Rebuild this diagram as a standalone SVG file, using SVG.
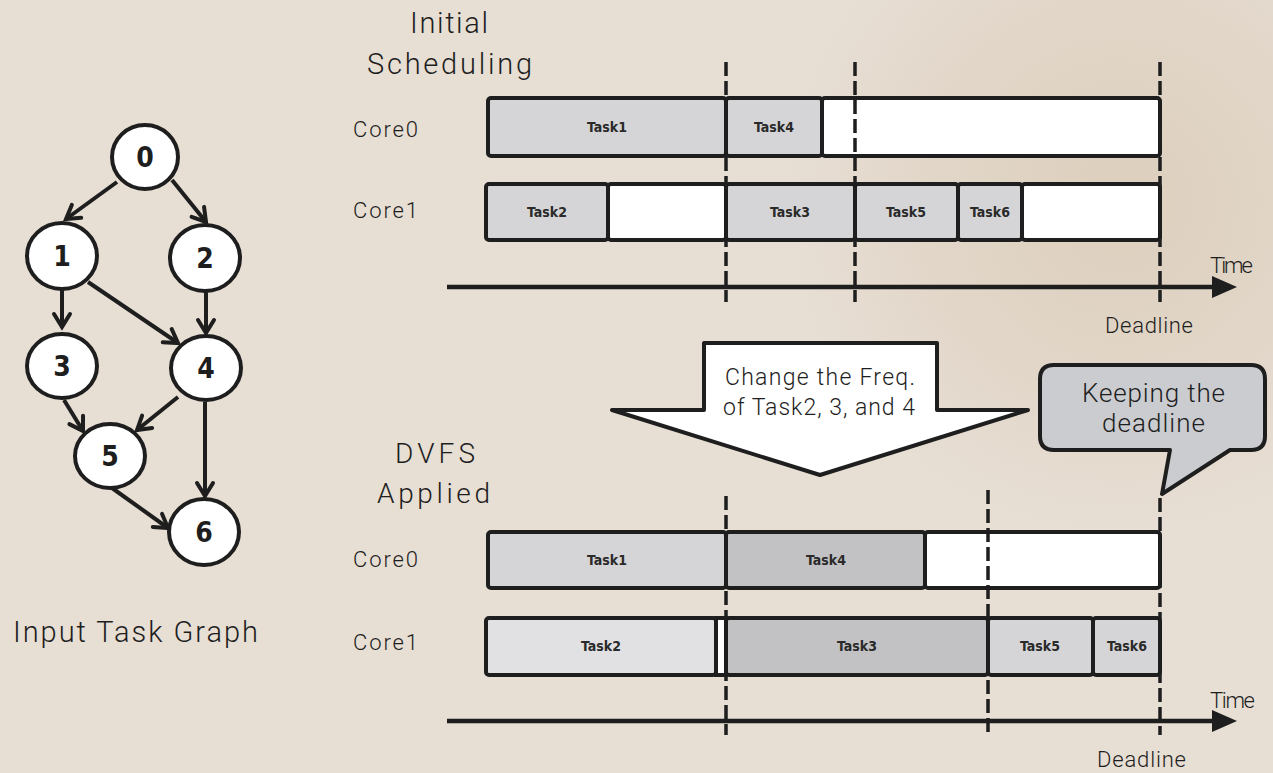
<svg xmlns="http://www.w3.org/2000/svg" width="1273" height="773" viewBox="0 0 1273 773">
<defs>
<style>
.lbl{font-family:Roboto,"Liberation Sans",sans-serif;font-weight:300;fill:#1e1e1e;}
.task{font-family:"DejaVu Sans Condensed","DejaVu Sans",sans-serif;font-stretch:condensed;font-weight:bold;font-size:14px;fill:#2a2a2a;text-anchor:middle;}
.num{font-family:"DejaVu Sans Condensed","DejaVu Sans",sans-serif;font-stretch:condensed;font-weight:bold;font-size:28px;fill:#1e1e1e;text-anchor:middle;}
.node{fill:#fff;stroke:#1e1e1e;stroke-width:4;}
.edge{stroke:#1e1e1e;stroke-width:4;fill:none;marker-end:url(#chev);}
.seg{stroke:#1e1e1e;stroke-width:4;}
.g1{fill:#d5d5d7;}
.g2{fill:#c2c2c4;}
.g0{fill:#e1e1e3;}
.w{fill:#fff;}
.dash{stroke:#1e1e1e;stroke-width:3.5;stroke-dasharray:14 5;fill:none;}
.axis{stroke:#1e1e1e;stroke-width:4.5;fill:none;}
</style>
<marker id="chev" viewBox="-16 -12 20 24" refX="0" refY="0" markerWidth="20" markerHeight="24" markerUnits="userSpaceOnUse" orient="auto">
<path d="M-13,-8 L0,0 L-13,8" fill="none" stroke="#1e1e1e" stroke-width="4" stroke-linecap="round" stroke-linejoin="miter"/>
</marker>
<radialGradient id="tint" cx="0.5" cy="0.5" r="0.5">
<stop offset="0" stop-color="#cdb89b" stop-opacity="0.4"/>
<stop offset="0.6" stop-color="#cdb89b" stop-opacity="0.2"/>
<stop offset="1" stop-color="#cdb89b" stop-opacity="0"/>
</radialGradient>
</defs>
<rect x="0" y="0" width="1273" height="773" fill="#e7ded4"/>
<ellipse cx="1120" cy="200" rx="330" ry="330" fill="url(#tint)"/>

<!-- Task graph -->
<g id="graph-edges">
<line class="edge" x1="117" y1="182" x2="66" y2="219"/>
<line class="edge" x1="172" y1="180" x2="206" y2="222"/>
<line class="edge" x1="62" y1="290" x2="62" y2="327"/>
<line class="edge" x1="88" y1="282" x2="178" y2="343"/>
<line class="edge" x1="206" y1="292" x2="206" y2="333"/>
<line class="edge" x1="64" y1="400" x2="83" y2="431"/>
<line class="edge" x1="178" y1="397" x2="137" y2="430"/>
<line class="edge" x1="205" y1="402" x2="205" y2="496"/>
<line class="edge" x1="112" y1="488" x2="168" y2="528"/>
</g>
<g id="node0"><ellipse class="node" cx="145" cy="157" rx="33" ry="32"/><text class="num" x="145" y="167">0</text></g>
<g id="node1"><ellipse class="node" cx="62" cy="256" rx="35" ry="33"/><text class="num" x="62" y="266">1</text></g>
<g id="node2"><ellipse class="node" cx="205" cy="258" rx="35" ry="33"/><text class="num" x="205" y="268">2</text></g>
<g id="node3"><ellipse class="node" cx="62" cy="366" rx="35" ry="32"/><text class="num" x="62" y="376">3</text></g>
<g id="node4"><ellipse class="node" cx="206" cy="368" rx="35" ry="32"/><text class="num" x="206" y="378">4</text></g>
<g id="node5"><ellipse class="node" cx="110" cy="456" rx="35" ry="32"/><text class="num" x="110" y="466">5</text></g>
<g id="node6"><ellipse class="node" cx="204" cy="532" rx="35" ry="33"/><text class="num" x="204" y="542">6</text></g>
<g id="graph-title"><text class="lbl" x="13" y="642" font-size="29" textLength="245" lengthAdjust="spacing">Input Task Graph</text></g>

<!-- Initial scheduling -->
<g id="initial-title">
<text class="lbl" x="410" y="33" font-size="29" textLength="78" lengthAdjust="spacing">Initial</text>
<text class="lbl" x="367" y="74" font-size="29" textLength="165" lengthAdjust="spacing">Scheduling</text>
</g>
<g id="init-core0">
<text class="lbl" x="353" y="137" font-size="22" textLength="65" lengthAdjust="spacing">Core0</text>
<rect class="seg g1" x="488" y="98" width="238" height="58" rx="3"/>
<rect class="seg g1" x="726" y="98" width="96" height="58" rx="3"/>
<rect class="seg w" x="822" y="98" width="338" height="58" rx="3"/>
<text class="task" x="607" y="132">Task1</text>
<text class="task" x="774" y="132">Task4</text>
</g>
<g id="init-core1">
<text class="lbl" x="353" y="218" font-size="22" textLength="65" lengthAdjust="spacing">Core1</text>
<rect class="seg g1" x="486" y="184" width="122" height="56" rx="3"/>
<rect class="seg w" x="608" y="184" width="118" height="56" rx="3"/>
<rect class="seg g1" x="726" y="184" width="129" height="56" rx="3"/>
<rect class="seg g1" x="855" y="184" width="103" height="56" rx="3"/>
<rect class="seg g1" x="958" y="184" width="64" height="56" rx="3"/>
<rect class="seg w" x="1022" y="184" width="138" height="56" rx="3"/>
<text class="task" x="547" y="217">Task2</text>
<text class="task" x="790" y="217">Task3</text>
<text class="task" x="906" y="217">Task5</text>
<text class="task" x="990" y="217">Task6</text>
</g>
<g id="init-axis">
<line class="dash" x1="726" y1="62" x2="726" y2="302"/>
<line class="dash" x1="855" y1="62" x2="855" y2="302"/>
<line class="dash" x1="1160" y1="62" x2="1160" y2="302"/>
<line class="axis" x1="447" y1="287" x2="1216" y2="287"/>
<polygon points="1212,276 1237,287 1212,298" fill="#1e1e1e"/>
<text class="lbl" x="1210" y="273" font-size="22" textLength="43" lengthAdjust="spacing">Time</text>
<text class="lbl" x="1105" y="333" font-size="22" textLength="88" lengthAdjust="spacing">Deadline</text>
</g>

<!-- Transition arrow and callout -->
<g id="change-arrow">
<path d="M704,343 L937,343 L937,410 L1028,410 L820,475 L612,410 L704,410 Z" fill="#fff" stroke="#1e1e1e" stroke-width="4" stroke-linejoin="round"/>
<text class="lbl" x="725" y="385" font-size="23" textLength="190" lengthAdjust="spacing">Change the Freq.</text>
<text class="lbl" x="723" y="415" font-size="23" textLength="192" lengthAdjust="spacing">of Task2, 3, and 4</text>
</g>
<g id="deadline-callout">
<path d="M1054,365 L1251,365 Q1265,365 1265,379 L1265,436 Q1265,450 1251,450 L1230,450 L1162,494 L1170,450 L1054,450 Q1040,450 1040,436 L1040,379 Q1040,365 1054,365 Z" fill="#cbcccf" stroke="#1e1e1e" stroke-width="4" stroke-linejoin="round"/>
<text class="lbl" x="1082" y="402" font-size="26" textLength="143" lengthAdjust="spacing">Keeping the</text>
<text class="lbl" x="1102" y="432" font-size="26" textLength="103" lengthAdjust="spacing">deadline</text>
</g>

<!-- DVFS applied -->
<g id="dvfs-title">
<text class="lbl" x="395" y="463" font-size="28" textLength="80" lengthAdjust="spacing">DVFS</text>
<text class="lbl" x="377" y="503" font-size="28" textLength="113" lengthAdjust="spacing">Applied</text>
</g>
<g id="dvfs-core0">
<text class="lbl" x="353" y="567" font-size="22" textLength="65" lengthAdjust="spacing">Core0</text>
<rect class="seg g1" x="488" y="532" width="238" height="56" rx="3"/>
<rect class="seg g2" x="726" y="532" width="199" height="56" rx="3"/>
<rect class="seg w" x="925" y="532" width="235" height="56" rx="3"/>
<text class="task" x="607" y="565">Task1</text>
<text class="task" x="826" y="565">Task4</text>
</g>
<g id="dvfs-core1">
<text class="lbl" x="353" y="650" font-size="22" textLength="65" lengthAdjust="spacing">Core1</text>
<rect class="seg g0" x="486" y="618" width="230" height="57" rx="3"/>
<rect class="seg w" x="716" y="618" width="10" height="57"/>
<rect class="seg g2" x="726" y="618" width="262" height="57" rx="3"/>
<rect class="seg g1" x="988" y="618" width="105" height="57" rx="3"/>
<rect class="seg g1" x="1093" y="618" width="67" height="57" rx="3"/>
<text class="task" x="601" y="651">Task2</text>
<text class="task" x="857" y="651">Task3</text>
<text class="task" x="1040" y="651">Task5</text>
<text class="task" x="1127" y="651">Task6</text>
</g>
<g id="dvfs-axis">
<line class="dash" x1="726" y1="496" x2="726" y2="735"/>
<line class="dash" x1="988" y1="490" x2="988" y2="735"/>
<line class="dash" x1="1160" y1="498" x2="1160" y2="735"/>
<line class="axis" x1="447" y1="721" x2="1216" y2="721"/>
<polygon points="1212,710 1237,721 1212,732" fill="#1e1e1e"/>
<text class="lbl" x="1210" y="708" font-size="22" textLength="45" lengthAdjust="spacing">Time</text>
<text class="lbl" x="1097" y="767" font-size="22" textLength="89" lengthAdjust="spacing">Deadline</text>
</g>
</svg>
